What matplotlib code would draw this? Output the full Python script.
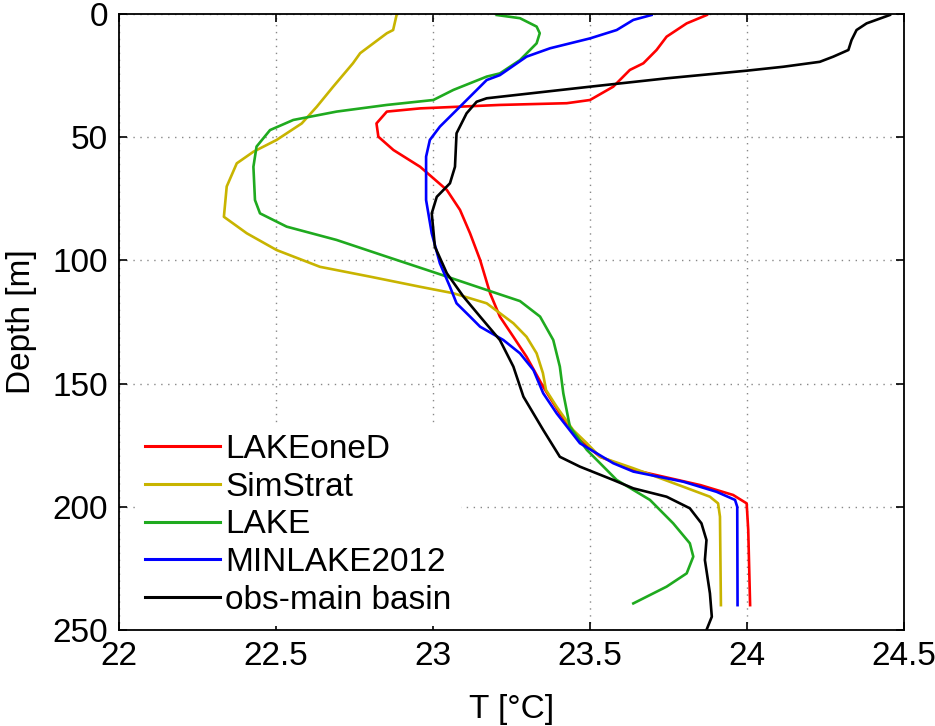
import matplotlib
matplotlib.use("Agg")
import matplotlib.pyplot as plt

plt.rcParams['font.family'] = ['Liberation Sans', 'DejaVu Sans']

# ---- data ----
lakeoned_T = [23.872, 23.808, 23.744, 23.712, 23.670, 23.627, 23.574, 23.500, 23.426, 23.213,
              22.959, 22.853, 22.820, 22.826, 22.874, 22.959, 23.044, 23.086, 23.118, 23.150,
              23.182, 23.213, 23.256, 23.298, 23.351, 23.404, 23.468, 23.532, 23.638, 23.852,
              23.956, 23.999, 24.004, 24.010]
lakeoned_D = [0.4, 3.8, 9.2, 14.6, 20.0, 22.7, 29.5, 34.9, 36.2, 36.9,
              38.3, 39.6, 44.4, 49.8, 55.2, 62.0, 71.4, 79.5, 89.0, 99.8,
              113.4, 122.8, 131.0, 139.1, 151.3, 162.1, 172.9, 179.7, 185.0, 191.2,
              195.2, 198.6, 209.4, 239.9]

simstrat_T = [22.884, 22.873, 22.853, 22.768, 22.745, 22.682, 22.630, 22.582, 22.502, 22.428,
              22.375, 22.343, 22.334, 22.407, 22.502, 22.640, 22.800, 22.959, 23.064, 23.171,
              23.256, 23.298, 23.330, 23.350, 23.360, 23.394, 23.446, 23.490, 23.532, 23.637,
              23.796, 23.882, 23.908, 23.914, 23.917]
simstrat_D = [0.4, 6.5, 7.8, 15.9, 20.0, 29.5, 37.6, 44.4, 51.1, 55.9,
              60.6, 70.0, 82.3, 89.0, 95.8, 102.6, 106.6, 110.7, 113.3, 117.4,
              125.5, 131.0, 137.7, 145.7, 152.6, 159.4, 168.8, 174.2, 179.7, 184.3,
              191.8, 195.9, 198.6, 204.0, 239.9]

lake_T = [23.203, 23.277, 23.330, 23.340, 23.330, 23.277, 23.213, 23.171, 23.065, 23.001,
          22.853, 22.693, 22.555, 22.481, 22.438, 22.428, 22.433, 22.449, 22.534, 22.693,
          22.853, 23.012, 23.171, 23.277, 23.341, 23.383, 23.404, 23.415, 23.436, 23.490,
          23.585, 23.691, 23.765, 23.818, 23.829, 23.808, 23.744, 23.638]
lake_D = [0.4, 1.7, 5.1, 7.8, 11.9, 18.7, 24.1, 25.4, 30.8, 34.9,
          36.9, 39.6, 43.0, 47.1, 53.8, 62.0, 75.5, 80.9, 86.3, 91.7,
          98.5, 105.2, 112.0, 116.5, 122.8, 132.3, 143.1, 153.9, 167.5, 176.9,
          189.1, 197.2, 206.7, 214.8, 220.2, 227.0, 232.4, 239.2]

minlake_T = [23.696, 23.638, 23.585, 23.500, 23.373, 23.298, 23.213, 23.171, 23.086, 23.022,
             22.990, 22.978, 22.978, 22.996, 23.022, 23.054, 23.075, 23.118, 23.150, 23.224,
             23.277, 23.320, 23.351, 23.394, 23.468, 23.574, 23.638, 23.797, 23.903, 23.962,
             23.969, 23.970]
minlake_D = [0.4, 2.4, 6.5, 9.9, 13.9, 17.3, 24.8, 26.8, 37.6, 45.7,
             51.1, 57.9, 75.5, 89.0, 101.2, 110.7, 117.4, 122.8, 126.9, 132.3,
             137.7, 144.5, 153.9, 162.1, 174.2, 182.3, 185.7, 189.8, 193.9, 197.2,
             200.0, 239.9]

obs_T = [24.455, 24.381, 24.349, 24.333, 24.323, 24.275, 24.232, 24.116, 23.999, 23.744,
         23.500, 23.213, 23.171, 23.139, 23.107, 23.075, 23.070, 23.054, 23.012, 22.996,
         23.006, 23.044, 23.097, 23.150, 23.213, 23.256, 23.288, 23.351, 23.404, 23.468,
         23.574, 23.638, 23.744, 23.818, 23.855, 23.871, 23.866, 23.882, 23.888, 23.871]
obs_D = [0.4, 3.8, 6.5, 10.6, 14.6, 17.3, 19.4, 21.4, 23.0, 26.1,
         29.5, 33.6, 34.2, 35.6, 40.3, 48.4, 62.0, 68.7, 74.2, 80.9,
         94.4, 105.2, 114.7, 122.8, 132.3, 143.1, 155.3, 168.8, 179.7, 183.7,
         189.1, 192.5, 195.9, 200.6, 206.7, 213.5, 221.6, 235.1, 244.6, 250.0]

series_names = ['LAKEoneD', 'SimStrat', 'LAKE', 'MINLAKE2012', 'obs-main basin']
x_ticks = [22, 22.5, 23, 23.5, 24, 24.5]
x_tick_labels = ['22', '22.5', '23', '23.5', '24', '24.5']
y_ticks = [0, 50, 100, 150, 200, 250]
y_tick_labels = ['0', '50', '100', '150', '200', '250']

# ---- plot ----
fig = plt.figure(figsize=(9.35, 7.26), dpi=100)
ax = fig.add_axes([0.1273, 0.1322, 0.8395, 0.8485])

colors = ['#ff0000', '#c8b400', '#1faa1f', '#0000ff', '#000000']
series = [(lakeoned_T, lakeoned_D), (simstrat_T, simstrat_D), (lake_T, lake_D),
          (minlake_T, minlake_D), (obs_T, obs_D)]
for (t, d), c, name in zip(series, colors, series_names):
    ax.plot(t, d, color=c, lw=1.9, label=name)

ax.set_xlim(22, 24.5)
ax.set_ylim(250, 0)
ax.set_xticks(x_ticks)
ax.set_xticklabels(x_tick_labels)
ax.set_yticks(y_ticks)
ax.set_yticklabels(y_tick_labels)
ax.tick_params(direction='in', length=6, width=1.2, labelsize=24,
               top=True, right=True, pad=8)
ax.grid(True, linestyle=(0, (1, 4)), color='#888888', lw=1.0)
for s in ax.spines.values():
    s.set_linewidth(1.3)

ax.set_xlabel('T [°C]', fontsize=24, labelpad=16)
ax.set_ylabel('Depth [m]', fontsize=24, labelpad=11)

leg = ax.legend(loc='lower left', bbox_to_anchor=(0.012, -0.004), fontsize=24,
                frameon=True, fancybox=False, handlelength=2.25,
                handletextpad=0.15, labelspacing=0.2, borderpad=0.3,
                borderaxespad=0.2)
leg.get_frame().set_edgecolor('none')
leg.get_frame().set_facecolor('white')
leg.get_frame().set_alpha(1.0)
for line in leg.get_lines():
    line.set_linewidth(2.2)

fig.savefig('out.png', dpi=100)
